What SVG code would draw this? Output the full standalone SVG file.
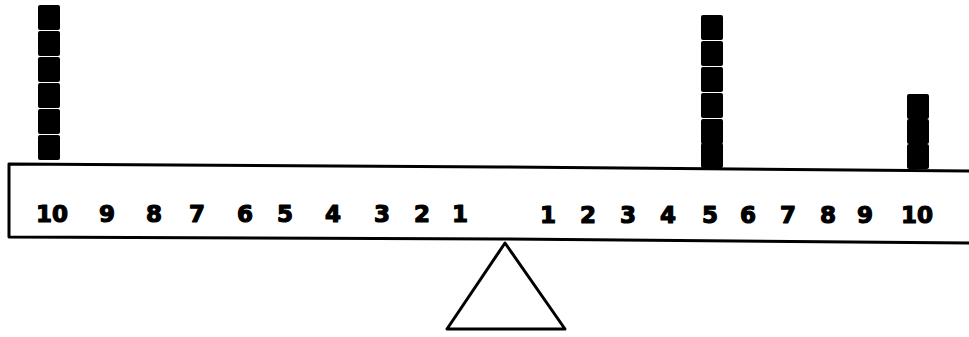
<svg xmlns="http://www.w3.org/2000/svg" width="969" height="337" viewBox="0 0 969 337">
<style>
.ln{fill:none;stroke:#000;stroke-width:3;stroke-linejoin:round;stroke-linecap:round}
.blk{fill:#000}
.num{font-family:"DejaVu Sans",sans-serif;font-weight:bold;font-size:23px;fill:#000;stroke:#000;stroke-width:1.2;stroke-linejoin:round;text-anchor:middle}
</style>
<defs>
<rect id="b" x="0" y="0" width="22" height="25" rx="2" class="blk"/>
</defs>
<rect width="969" height="337" fill="#fff"/>
<g id="beam">
<path class="ln" d="M969,171 L500,167 L9,164 L9,237 L500,239 L969,243"/>
</g>
<g id="fulcrum">
<path class="ln" d="M505,243 L447,329 L565,329 Z"/>
</g>
<g id="stack-left">
<use href="#b" x="38" y="5"/>
<use href="#b" x="38" y="31"/>
<use href="#b" x="38" y="57"/>
<use href="#b" x="38" y="83"/>
<use href="#b" x="38" y="109"/>
<use href="#b" x="38" y="135"/>
</g>
<g id="stack-right5">
<use href="#b" x="701" y="15"/>
<use href="#b" x="701" y="41"/>
<use href="#b" x="701" y="67"/>
<use href="#b" x="701" y="93"/>
<use href="#b" x="701" y="119"/>
<use href="#b" x="701" y="143"/>
</g>
<g id="stack-right10">
<use href="#b" x="907" y="94"/>
<use href="#b" x="907" y="119"/>
<use href="#b" x="907" y="144"/>
</g>
<g id="numbers">
<text class="num" x="52" y="222">10</text>
<text class="num" x="107" y="222">9</text>
<text class="num" x="154" y="222">8</text>
<text class="num" x="197" y="222">7</text>
<text class="num" x="245" y="222">6</text>
<text class="num" x="285" y="222">5</text>
<text class="num" x="333" y="222">4</text>
<text class="num" x="382" y="222">3</text>
<text class="num" x="422" y="222">2</text>
<text class="num" x="460" y="222">1</text>
<text class="num" x="548" y="223">1</text>
<text class="num" x="588" y="223">2</text>
<text class="num" x="628" y="223">3</text>
<text class="num" x="668" y="223">4</text>
<text class="num" x="710" y="223">5</text>
<text class="num" x="748" y="223">6</text>
<text class="num" x="788" y="223">7</text>
<text class="num" x="828" y="223">8</text>
<text class="num" x="865" y="223">9</text>
<text class="num" x="917" y="223">10</text>
</g>
</svg>
